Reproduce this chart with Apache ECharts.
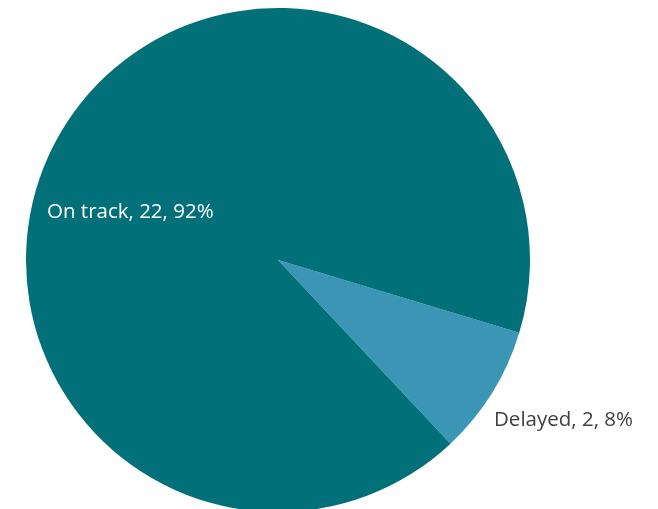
<!DOCTYPE html>
<html>
<head>
<meta charset="utf-8">
<script src="https://cdn.jsdelivr.net/npm/echarts@6/dist/echarts.min.js"></script>
<style>
html,body{margin:0;padding:0;background:#fff;}
#main{width:658px;height:509px;}
</style>
</head>
<body>
<div id="main"></div>
<script>
var categories = ['Delayed', 'On track'];
var values = [2, 22];
var colors = ['#3A96B4', '#027079'];
var labelColors = ['#404040', '#ffffff'];

var total = values[0] + values[1];

// label spots, picked by eye from the reference
var labelSpots = [[494, 420], [47, 212]];

var pieData = [];
for (var i = 0; i < categories.length; i++) {
	pieData.push({
		name: categories[i],
		value: values[i],
		itemStyle: { color: colors[i] },
		label: { color: labelColors[i], position: i == 0 ? 'outside' : 'inside' }
	});
}

var chart = echarts.init(document.getElementById('main'));
chart.setOption({
	animation: false,
	series: [{
		type: 'pie',
		center: [278, 260],
		radius: 252,
		startAngle: -16.8,
		clockwise: true,
		avoidLabelOverlap: false,
		data: pieData,
		label: {
			show: true,
			fontFamily: 'Open Sans',
			fontSize: 20.5,
			formatter: function (p) {
				return p.name + ', ' + p.value + ', ' + Math.round(p.value / total * 100) + '%';
			}
		},
		labelLine: { show: false },
		labelLayout: function (p) {
			var s = labelSpots[p.dataIndex];
			return { x: s[0], y: s[1], align: 'left', verticalAlign: 'middle', hideOverlap: false };
		}
	}]
});
</script>
</body>
</html>
